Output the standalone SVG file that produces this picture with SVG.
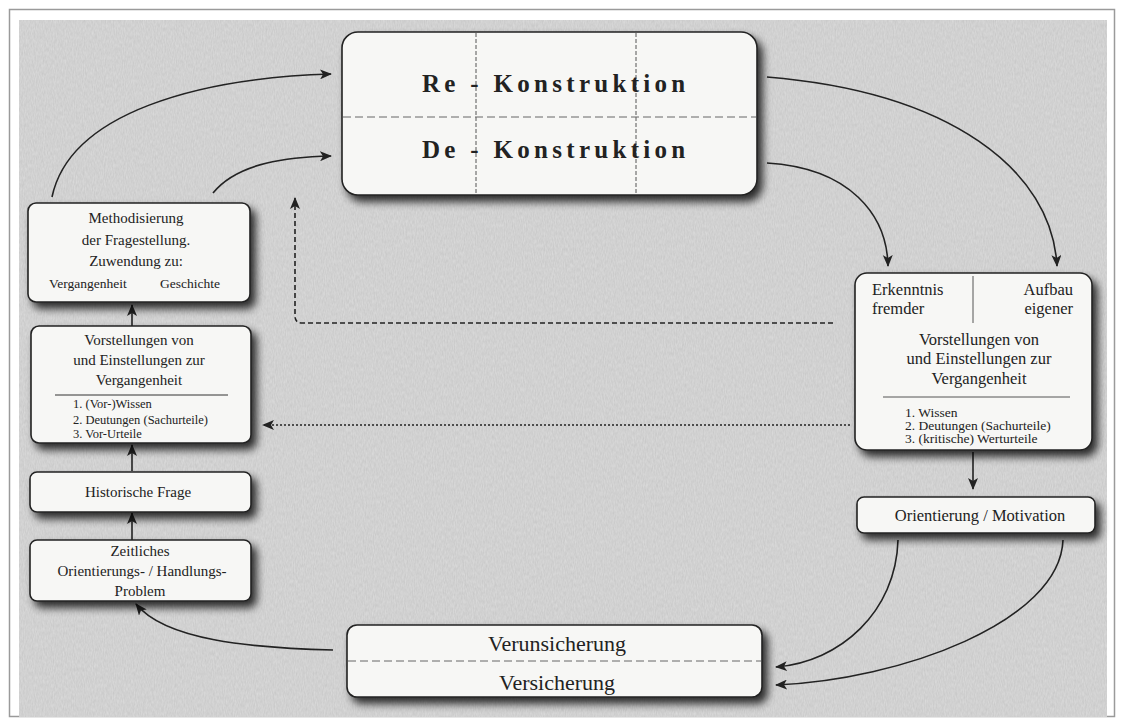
<svg xmlns="http://www.w3.org/2000/svg" width="1124" height="726" viewBox="0 0 1124 726">
<defs>
<filter id="sh" x="-10%" y="-20%" width="130%" height="160%">
<feGaussianBlur in="SourceAlpha" stdDeviation="4.5"/>
<feOffset dx="5" dy="6" result="b"/>
<feComponentTransfer><feFuncA type="linear" slope="0.8"/></feComponentTransfer>
<feMerge><feMergeNode/><feMergeNode in="SourceGraphic"/></feMerge>
</filter>
<filter id="noise" x="0" y="0" width="100%" height="100%">
<feTurbulence type="fractalNoise" baseFrequency="0.9 0.25" numOctaves="2" seed="3" result="n"/>
<feColorMatrix in="n" type="matrix" values="0 0 0 0 0  0 0 0 0 0  0 0 0 0 0  0 0 0 0.1 0"/>
</filter>
<marker id="ah" viewBox="0 0 12 10" refX="11" refY="5" markerWidth="12" markerHeight="10" markerUnits="userSpaceOnUse" orient="auto">
<path d="M0,0 L12,5 L0,10 L3,5 z" fill="#222"/>
</marker>
</defs>
<style>
.box{fill:#f7f7f5;stroke:#222;stroke-width:1.6}
.t{font-family:"Liberation Serif","Times New Roman",serif;fill:#222;font-size:15px}
.s{font-size:12.5px}
.r{font-size:16.5px}
.rs{font-size:13.5px}
.c{stroke:#222;stroke-width:1.6;fill:none}
.big{font-size:25px;font-weight:bold;letter-spacing:4.3px}
.mid{font-size:22px}
</style>
<rect x="9.5" y="9.5" width="1105" height="707" fill="#fff" stroke="#9a9a9a" stroke-width="1.5"/>
<rect x="19" y="20" width="1088" height="697" fill="#dcdcdc"/>
<rect x="19" y="20" width="1088" height="697" filter="url(#noise)"/>

<g id="connectors">
<path class="c" d="M52,197 C70,112 200,78 331,74" marker-end="url(#ah)"/>
<path class="c" d="M213,193 C238,162 290,157 331,156" marker-end="url(#ah)"/>
<path class="c" d="M767,77 C950,92 1052,170 1057,266" marker-end="url(#ah)"/>
<path class="c" d="M767,163 C850,168 887,215 888,266" marker-end="url(#ah)"/>
<path class="c" d="M973,452 L973,489" marker-end="url(#ah)"/>
<path class="c" d="M898,540 C896,612 840,662 776,667" marker-end="url(#ah)"/>
<path class="c" d="M1063,540 C1060,622 900,680 776,685" marker-end="url(#ah)"/>
<path class="c" d="M333,650 C250,648 165,640 136,604" marker-end="url(#ah)"/>
<path class="c" d="M132,326 L132,305" marker-end="url(#ah)"/>
<path class="c" d="M132,471 L132,445" marker-end="url(#ah)"/>
<path class="c" d="M132,540 L132,513" marker-end="url(#ah)"/>
<path class="c" d="M833,323 L302,323 Q295,323 295,316 L295,198" stroke-dasharray="5,3" marker-end="url(#ah)"/>
<path class="c" d="M850,425 L263,425" stroke-dasharray="2,2" marker-end="url(#ah)"/>
</g>

<g id="konstruktion">
<rect class="box" x="342" y="32" width="415" height="163" rx="16" filter="url(#sh)"/>
<line x1="476" y1="33" x2="476" y2="194" stroke="#555" stroke-width="1" stroke-dasharray="4,2"/>
<line x1="636" y1="33" x2="636" y2="194" stroke="#555" stroke-width="1" stroke-dasharray="4,2"/>
<line x1="343" y1="117" x2="756" y2="117" stroke="#666" stroke-width="1" stroke-dasharray="8,4"/>
<text class="t big" x="422" y="92">Re - Konstruktion</text>
<text class="t big" x="422" y="158">De - Konstruktion</text>
</g>

<g id="methodisierung">
<rect class="box" x="28" y="203" width="222" height="99" rx="8" filter="url(#sh)"/>
<text class="t" text-anchor="middle" x="136" y="223">Methodisierung</text>
<text class="t" text-anchor="middle" x="136" y="245">der Fragestellung.</text>
<text class="t" text-anchor="middle" x="136" y="266">Zuwendung zu:</text>
<text class="t rs" x="49" y="288">Vergangenheit</text>
<text class="t rs" x="160" y="288">Geschichte</text>
</g>

<g id="vorstellungen-links">
<rect class="box" x="31" y="326" width="220" height="117" rx="8" filter="url(#sh)"/>
<text class="t" text-anchor="middle" x="139" y="345">Vorstellungen von</text>
<text class="t" text-anchor="middle" x="139" y="365">und Einstellungen zur</text>
<text class="t" text-anchor="middle" x="139" y="385">Vergangenheit</text>
<line x1="55" y1="395" x2="228" y2="395" stroke="#333" stroke-width="1"/>
<text class="t s" x="73" y="408">1. (Vor-)Wissen</text>
<text class="t s" x="73" y="424">2. Deutungen (Sachurteile)</text>
<text class="t s" x="73" y="438">3. Vor-Urteile</text>
</g>

<g id="historische-frage">
<rect class="box" x="30" y="472" width="221" height="40" rx="7" filter="url(#sh)"/>
<text class="t" text-anchor="middle" x="138" y="497">Historische Frage</text>
</g>

<g id="problem">
<rect class="box" x="30" y="540" width="221" height="61" rx="7" filter="url(#sh)"/>
<text class="t" text-anchor="middle" x="140" y="556">Zeitliches</text>
<text class="t" text-anchor="middle" x="142" y="576">Orientierungs- / Handlungs-</text>
<text class="t" text-anchor="middle" x="140" y="596">Problem</text>
</g>

<g id="vorstellungen-rechts">
<rect class="box" x="855" y="273" width="237" height="177" rx="12" filter="url(#sh)"/>
<line x1="973" y1="276" x2="973" y2="323" stroke="#555" stroke-width="1"/>
<text class="t r" x="872" y="295">Erkenntnis</text>
<text class="t r" x="872" y="314">fremder</text>
<text class="t r" text-anchor="end" x="1073" y="295">Aufbau</text>
<text class="t r" text-anchor="end" x="1073" y="314">eigener</text>
<text class="t r" text-anchor="middle" x="979" y="345">Vorstellungen von</text>
<text class="t r" text-anchor="middle" x="979" y="364">und Einstellungen zur</text>
<text class="t r" text-anchor="middle" x="979" y="384">Vergangenheit</text>
<line x1="883" y1="397" x2="1070" y2="397" stroke="#555" stroke-width="1"/>
<text class="t rs" x="905" y="417">1. Wissen</text>
<text class="t rs" x="905" y="430">2. Deutungen (Sachurteile)</text>
<text class="t rs" x="905" y="443">3. (kritische) Werturteile</text>
</g>

<g id="orientierung">
<rect class="box" x="857" y="497" width="238" height="36" rx="7" filter="url(#sh)"/>
<text class="t r" text-anchor="middle" x="980" y="521">Orientierung / Motivation</text>
</g>

<g id="verunsicherung">
<rect class="box" x="347" y="625" width="415" height="72" rx="10" filter="url(#sh)"/>
<line x1="348" y1="661" x2="761" y2="661" stroke="#666" stroke-width="1" stroke-dasharray="8,4"/>
<text class="t mid" text-anchor="middle" x="557" y="651">Verunsicherung</text>
<text class="t mid" text-anchor="middle" x="557" y="690">Versicherung</text>
</g>
</svg>
